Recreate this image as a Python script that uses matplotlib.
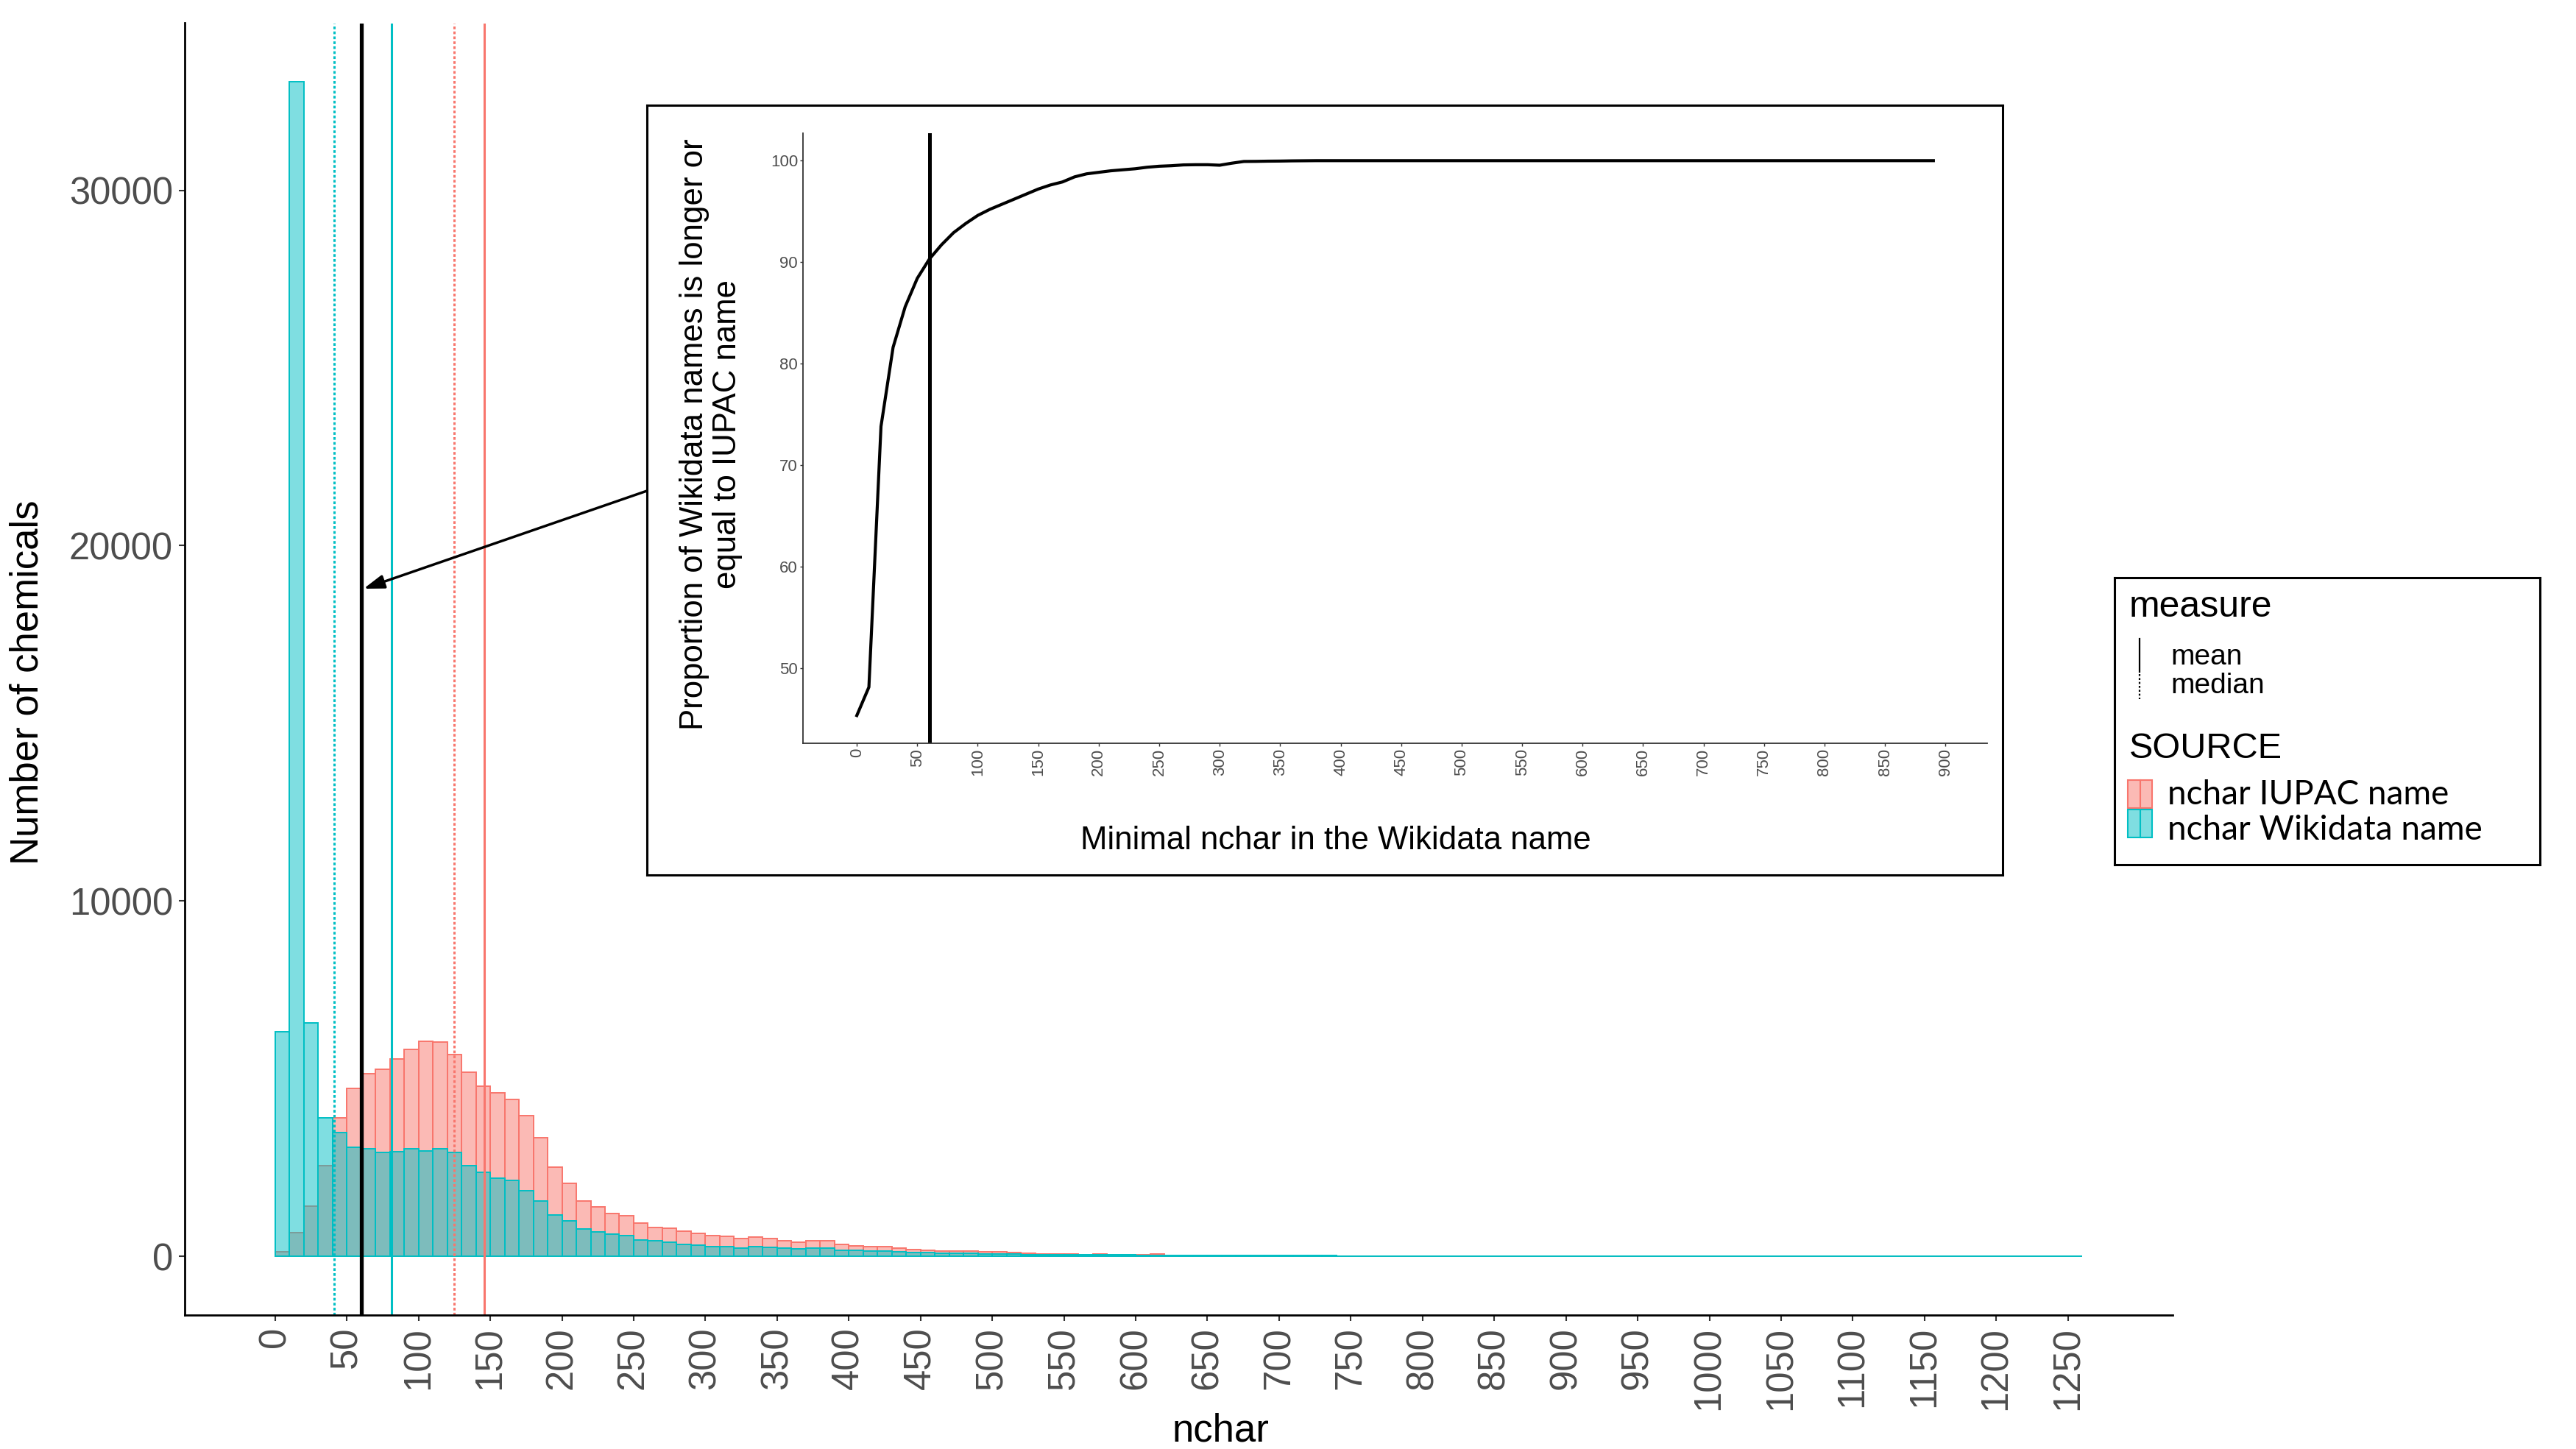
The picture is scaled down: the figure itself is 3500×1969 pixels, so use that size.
import numpy as np
import matplotlib
matplotlib.use('Agg')
import matplotlib.pyplot as plt
from matplotlib.patches import Rectangle, FancyArrowPatch
from matplotlib.colors import to_rgb

# histogram of name lengths, binwidth 10, bins start at 0
bin_width = 10
iupac_counts = [
    120, 670, 1410, 2560, 3890, 4720, 5150, 5270, 5550, 5820,
    6055, 6040, 5680, 5180, 4790, 4600, 4420, 3970, 3340, 2520,
    2050, 1560, 1400, 1210, 1140, 930, 820, 800, 700, 650,
    590, 570, 500, 540, 500, 430, 400, 430, 430, 330,
    300, 270, 270, 240, 200, 170, 150, 150, 150, 130,
    120, 100, 85, 75, 70, 62, 55, 65, 55, 42,
    50, 60, 30, 28, 26, 24, 22, 20, 18, 16,
    15, 14, 13, 12, 12, 11, 10, 10, 9, 9,
    8, 8, 7, 7, 6, 6, 5, 5, 5, 4,
    4, 4, 4, 3, 3, 3, 3, 3, 2, 2,
    2, 2, 2, 2, 2, 1, 1, 1, 1, 1,
    1, 1, 1, 1, 1, 1, 1, 1, 1, 1,
    1, 1, 0, 0, 1, 1,
]
wikidata_counts = [
    6330, 33050, 6570, 3890, 3490, 3060, 3020, 2920, 2940, 3020,
    2960, 3020, 2920, 2560, 2360, 2190, 2130, 1850, 1550, 1160,
    1000, 780, 690, 620, 590, 460, 430, 390, 330, 320,
    280, 280, 240, 270, 255, 235, 210, 230, 235, 170,
    160, 150, 150, 130, 115, 100, 90, 85, 80, 75,
    65, 60, 55, 55, 50, 50, 45, 45, 40, 40,
    35, 35, 30, 30, 28, 26, 25, 24, 22, 20,
    18, 17, 16, 15, 14, 13, 12, 12, 11, 10,
    10, 9, 9, 8, 8, 7, 7, 6, 6, 6,
    5, 5, 5, 4, 4, 4, 4, 3, 3, 3,
    3, 3, 2, 2, 2, 2, 2, 2, 2, 2,
    1, 1, 1, 1, 1, 1, 1, 1, 1, 1,
    1, 1, 1, 1, 1, 1,
]

# mean / median per source, and the chosen cutoff
iupac_mean = 146
iupac_median = 125
wikidata_mean = 81
wikidata_median = 41
cutoff = 60

# inset: proportion of wikidata names >= iupac name, by minimal nchar
min_nchar = np.arange(0, 900, 10)
prop_longer = [
    45.3, 48.1, 73.8, 81.6, 85.6, 88.4, 90.3, 91.7, 92.9, 93.8,
    94.6, 95.2, 95.7, 96.2, 96.7, 97.2, 97.6, 97.9, 98.4, 98.7,
    98.85, 99.0, 99.1, 99.2, 99.35, 99.45, 99.5, 99.58, 99.6, 99.6,
    99.55, 99.75, 99.92, 99.93, 99.95, 99.96, 99.98, 99.99, 100, 100,
    100, 100, 100, 100, 100, 100, 100, 100, 100, 100,
    100, 100, 100, 100, 100, 100, 100, 100, 100, 100,
    100, 100, 100, 100, 100, 100, 100, 100, 100, 100,
    100, 100, 100, 100, 100, 100, 100, 100, 100, 100,
    100, 100, 100, 100, 100, 100, 100, 100, 100, 100,
]

plt.rcParams['font.family'] = ['Liberation Sans', 'DejaVu Sans']

PINK = '#F8766D'
CYAN = '#00BFC4'
GREY = '#4D4D4D'

W, H = 3500, 1969
fig = plt.figure(figsize=(W / 100, H / 100), dpi=100)


def fx(px):
    return px / W


def fy(py):
    return 1 - py / H


# main histogram
ax = fig.add_axes([fx(251), fy(1787), fx(2952) - fx(251), fy(31.5) - fy(1787)], zorder=0)
edges = np.arange(0, bin_width * (len(iupac_counts) + 1), bin_width)
ax.bar(edges[:-1], iupac_counts, width=bin_width, align='edge',
       facecolor=(*to_rgb(PINK), 0.5), edgecolor=PINK, linewidth=1.4)
ax.bar(edges[:-1], wikidata_counts, width=bin_width, align='edge',
       facecolor=(*to_rgb(CYAN), 0.5), edgecolor=CYAN, linewidth=1.4)

dots = (0, (1.2, 1.0))
ax.axvline(iupac_median, color=PINK, lw=2.2, linestyle=dots)
ax.axvline(iupac_mean, color=PINK, lw=2.2)
ax.axvline(wikidata_median, color=CYAN, lw=2.2, linestyle=dots)
ax.axvline(wikidata_mean, color=CYAN, lw=2.2)
ax.axvline(cutoff, color='black', lw=3.8)

xmax = edges[-1]
ax.set_xlim(-0.05 * xmax, 1.05 * xmax)
ymax = max(wikidata_counts)
ax.set_ylim(-0.05 * ymax, 1.05 * ymax)
ax.set_xticks(np.arange(0, 1251, 50))
ax.set_yticks([0, 10000, 20000, 30000])
ax.tick_params(axis='x', labelrotation=90)
ax.tick_params(length=5.5, width=1.5, color='#333333', labelsize=36.5,
               labelcolor=GREY, pad=6)
for s in ['top', 'right']:
    ax.spines[s].set_visible(False)
for s in ['left', 'bottom']:
    ax.spines[s].set_linewidth(2)
    ax.spines[s].set_color('black')

fig.text(fx(1658), fy(1958), 'nchar', ha='center', va='baseline', size=38)
fig.text(fx(38), fy(927), 'Number of chemicals', rotation=90,
         ha='center', va='center', size=38)

# inset frame
box = fig.add_axes([fx(879), fy(1189), fx(2721) - fx(879), fy(143) - fy(1189)], zorder=2)
box.set_xticks([])
box.set_yticks([])
for s in box.spines.values():
    s.set_linewidth(2.2)
    s.set_color('black')

# inset plot
ins = fig.add_axes([fx(1091), fy(1010), fx(2700) - fx(1091), fy(180.6) - fy(1010)], zorder=3)
ins.patch.set_alpha(0)
ins.plot(min_nchar, prop_longer, color='black', lw=3)
ins.axvline(cutoff, color='black', lw=3.6)
xr = min_nchar[-1] - min_nchar[0]
ins.set_xlim(min_nchar[0] - 0.05 * xr, min_nchar[-1] + 0.05 * xr)
yr = max(prop_longer) - min(prop_longer)
ins.set_ylim(min(prop_longer) - 0.05 * yr, max(prop_longer) + 0.05 * yr)
ins.set_xticks(np.arange(0, 901, 50))
ins.set_yticks(np.arange(50, 101, 10))
ins.tick_params(axis='x', labelrotation=90)
ins.tick_params(length=3, width=1, color='#333333', labelsize=16,
                labelcolor=GREY, pad=2)
for s in ['top', 'right']:
    ins.spines[s].set_visible(False)
for s in ['left', 'bottom']:
    ins.spines[s].set_linewidth(1.3)
    ins.spines[s].set_color('#333333')

fig.text(fx(966), fy(590), 'Proportion of Wikidata names is longer or\nequal to IUPAC name',
         rotation=90, ha='center', va='center', multialignment='center',
         size=31.5, linespacing=1.15, zorder=5)
fig.text(fx(1815), fy(1154), 'Minimal nchar in the Wikidata name',
         ha='center', va='baseline', size=31.5, zorder=5)

# arrow from inset to the cutoff line
fig.add_artist(FancyArrowPatch((fx(879), fy(667)), (fx(494), fy(800)),
                               transform=fig.transFigure,
                               arrowstyle='-|>,head_length=1.2,head_width=0.4',
                               mutation_scale=14, lw=2.5, color='black',
                               shrinkA=0, shrinkB=0, zorder=5))

# legend box
lx0, lx1, ly0, ly1 = 2873, 3451, 785, 1175
lg = fig.add_axes([fx(lx0), fy(ly1), fx(lx1) - fx(lx0), fy(ly0) - fy(ly1)], zorder=2)
lg.set_xlim(lx0, lx1)
lg.set_ylim(ly1, ly0)
lg.set_xticks([])
lg.set_yticks([])
for s in lg.spines.values():
    s.set_linewidth(2.2)
    s.set_color('black')

lg.text(2893, 838, 'measure', size=36, va='baseline')
lg.plot([2907, 2907], [868, 913], color='black', lw=1.6)
lg.plot([2907, 2907], [916, 950], color='black', lw=1.6, linestyle=(0, (1.2, 1.2)))
lg.text(2949, 903, 'mean', size=28, va='baseline')
lg.text(2949, 942, 'median', size=28, va='baseline')

lg.text(2893, 1030, 'SOURCE', size=35, va='baseline')
for top, col in [(1060, PINK), (1100, CYAN)]:
    lg.add_patch(Rectangle((2891, top), 33, 38, facecolor=(*to_rgb(col), 0.5),
                           edgecolor=col, lw=1.5))
    lg.plot([2907.5, 2907.5], [top, top + 38], color=col, lw=1.5)
lg.text(2945, 1093, 'nchar IUPAC name', size=33, va='baseline',
        family=['Lato', 'DejaVu Sans'])
lg.text(2945, 1141, 'nchar Wikidata name', size=33, va='baseline',
        family=['Lato', 'DejaVu Sans'])

fig.savefig('out.png', dpi=100)
